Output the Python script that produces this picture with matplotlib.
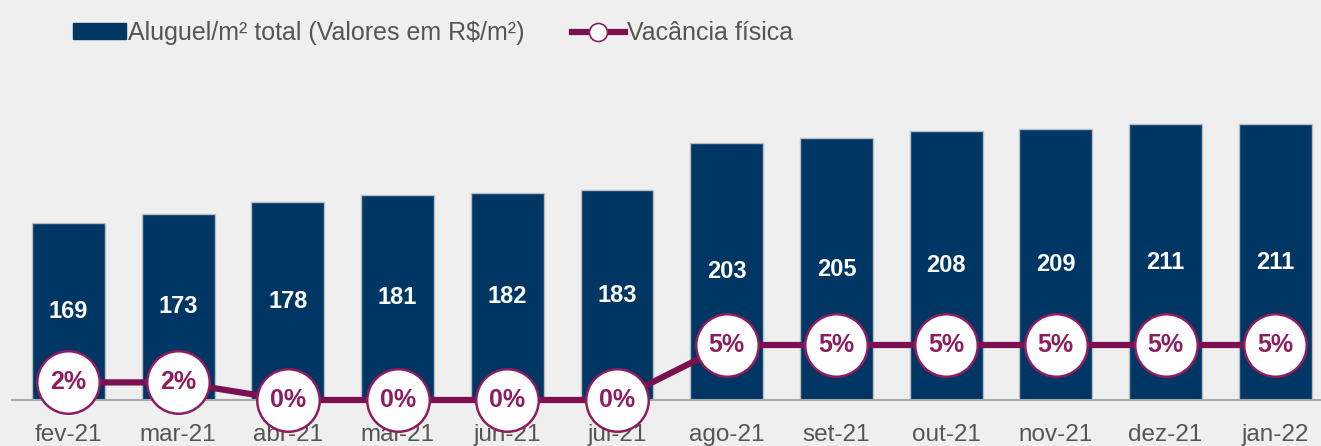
import matplotlib.pyplot as plt
from matplotlib.patches import Patch
from matplotlib.lines import Line2D

meses = ['fev-21', 'mar-21', 'abr-21', 'mai-21', 'jun-21', 'jul-21',
         'ago-21', 'set-21', 'out-21', 'nov-21', 'dez-21', 'jan-22']
aluguel = [169, 173, 178, 181, 182, 183, 203, 205, 208, 209, 211, 211]
vacancia = [1.6, 1.6, 0, 0, 0, 0, 5, 5, 5, 5, 5, 5]

navy = '#003664'
roxo = '#7b1150'
roxo_txt = '#8e1d60'
fundo = '#efefef'

plt.rcParams['font.family'] = ['Liberation Sans', 'DejaVu Sans']

fig = plt.figure(figsize=(13.21, 4.46), dpi=100, facecolor=fundo)
ax = fig.add_axes([0, 46/446, 1, 340/446])
ax.set_facecolor('none')

x = list(range(len(meses)))
ymin = 94
ax.bar(x, aluguel, width=0.665, color=navy, edgecolor='#b8bcc4', linewidth=1, zorder=2)
for i, v in enumerate(aluguel):
    ax.text(i, (ymin + v) / 2, str(v), ha='center', va='center', color='white',
            fontsize=17, fontweight='bold', zorder=3)

ax.set_ylim(ymin, ymin + 340 / 2.357)
ax.set_xlim(-68.5 / 109.7, (1321 - 68.5) / 109.7)
ax.set_yticks([])
ax.set_xticks(x)
ax.set_xticklabels(meses, fontsize=17.5, color='#555555')
ax.tick_params(axis='x', length=0, pad=17)
for s in ['top', 'right', 'left']:
    ax.spines[s].set_visible(False)
ax.spines['bottom'].set_color('#a8a8a8')
ax.spines['bottom'].set_linewidth(1.5)
ax.spines['bottom'].set_bounds(-56 / 109.7, 20)

ax2 = ax.twinx()
ax2.set_ylim(0, 340 / 11)
ax2.plot(x, vacancia, color=roxo, linewidth=4.5, marker='o', markersize=45,
         markerfacecolor='white', markeredgecolor=roxo_txt, markeredgewidth=1.8,
         clip_on=False, zorder=3)
for i, v in enumerate(vacancia):
    ax2.text(i, v, '{:.0f}%'.format(v), ha='center', va='center', color=roxo_txt,
             fontsize=18, fontweight='bold', zorder=4, clip_on=False)
ax2.set_yticks([])
for s in ['top', 'right', 'left', 'bottom']:
    ax2.spines[s].set_visible(False)

handles = [Patch(facecolor=navy, edgecolor=navy),
           Line2D([0], [0], color=roxo, linewidth=4.5, marker='o', markersize=13,
                  markerfacecolor='white', markeredgecolor=roxo_txt, markeredgewidth=1.2)]
fig.legend(handles, ['Aluguel/m² total (Valores em R$/m²)', 'Vacância física'],
           loc='upper left', bbox_to_anchor=(73 / 1321, 1 - 21 / 446), ncol=2,
           frameon=False, fontsize=18, handlelength=2.1, handleheight=0.6,
           handletextpad=0.1, columnspacing=1.9, borderpad=0, borderaxespad=0,
           labelcolor='#555555')

fig.savefig('out.png', dpi=100, facecolor=fundo)
